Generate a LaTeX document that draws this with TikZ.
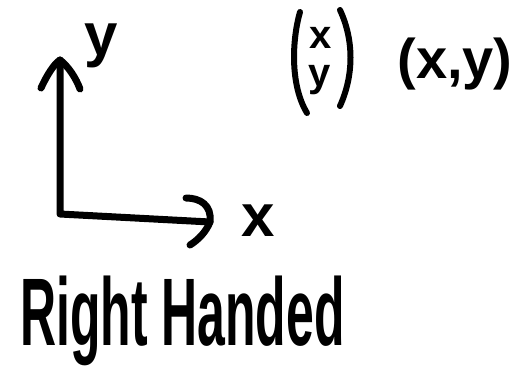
\documentclass[tikz,border=0pt]{standalone}
\usepackage{fontspec}
\setmainfont{Liberation Sans}
\begin{document}
\begin{tikzpicture}[x=1pt,y=-1pt,
  ink/.style={line width=7pt,line cap=round,line join=round,black},
  pen/.style={line width=6pt,line cap=round,line join=round,black},
  lbl/.style={inner sep=0pt,font=\fontsize{60}{60}\selectfont\bfseries},
  small/.style={inner sep=0pt,font=\fontsize{40}{40}\selectfont\bfseries}]
\useasboundingbox (0,0) rectangle (528,384);
% axes
\coordinate (o) at (60,214);
\coordinate (ytip) at (60,60);
\coordinate (xtip) at (210,222);
\draw[ink] (ytip) -- (o) -- (xtip);
\draw[ink] (41,88) .. controls (47,75) and (54,64) .. (ytip) .. controls (68,66) and (76,78) .. (80,89);
\draw[ink] (186,198) .. controls (200,198) and (212,205) .. (xtip) .. controls (206,232) and (198,240) .. (190,245);
\node[lbl] (ylab) at (101,46) {y};
\node[lbl] (xlab) at (258,221) {x};
% column vector
\node[small] (cx) at (321,38) {x};
\node[small] (cy) at (320,80) {y};
\draw[pen] (300,12) .. controls (292,40) and (290,85) .. (307,113);
\draw[pen] (340,10) .. controls (354,40) and (354,75) .. (340,106);
% point
\node[lbl,font=\fontsize{56}{56}\selectfont\bfseries] (pt) at (455,64) {(x,y)};
% caption
\node[inner sep=0pt,anchor=base west,font=\fontsize{96}{96}\selectfont\bfseries,xscale=0.52] (rh) at (20,345) {Right Handed};
\end{tikzpicture}
\end{document}
